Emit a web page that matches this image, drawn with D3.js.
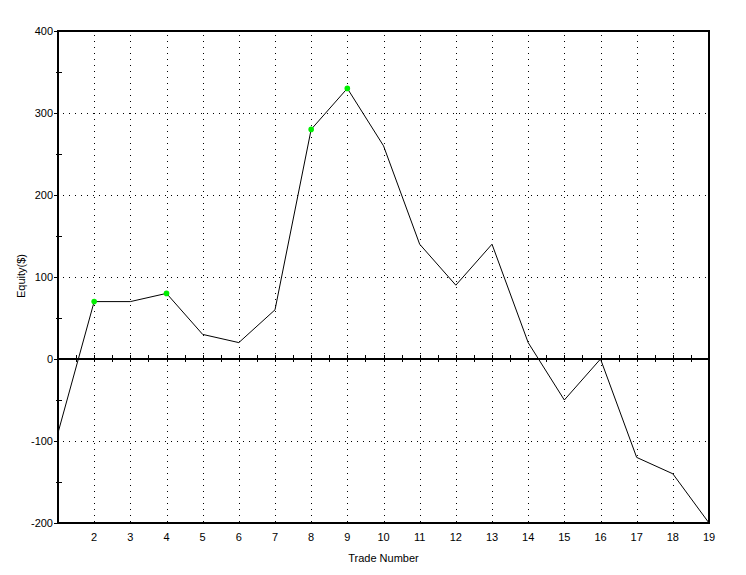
<!DOCTYPE html>
<html>
<head>
<meta charset="utf-8">
<script src="https://cdn.jsdelivr.net/npm/d3@7"></script>
<style>
html,body{margin:0;padding:0;background:#fff;}
svg{display:block;font-family:"Liberation Sans",Arial,sans-serif;}
</style>
</head>
<body>
<svg id="chart" width="746" height="575"></svg>
<script>
const trades = [1,2,3,4,5,6,7,8,9,10,11,12,13,14,15,16,17,18,19];
const equity = [-90,70,70,80,30,20,60,280,330,260,140,90,140,20,-50,0,-120,-140,-200];
const highTrades = [2,4,8,9];
const yTicks = [-200,-100,0,100,200,300,400];
const xTickLabels = [2,3,4,5,6,7,8,9,10,11,12,13,14,15,16,17,18,19];

const svg = d3.select("#chart");
const L = 58, R = 709, T = 31, B = 523;
const x = d3.scaleLinear().domain([1,19]).range([L,R]);
const y = d3.scaleLinear().domain([-200,400]).range([B,T]);

// grid
const g = svg.append("g").attr("shape-rendering","crispEdges");
g.selectAll(".vg").data(xTickLabels.filter(d=>d<19)).enter().append("line")
  .attr("x1",d=>Math.round(x(d))+0.5).attr("x2",d=>Math.round(x(d))+0.5)
  .attr("y1",T+4).attr("y2",B)
  .attr("stroke","#000").attr("stroke-width",1).attr("stroke-dasharray","1,5");
g.selectAll(".hg").data(yTicks.filter(d=>d!==0 && d!==400 && d!==-200)).enter().append("line")
  .attr("x1",L+5).attr("x2",R)
  .attr("y1",d=>Math.round(y(d))+0.5).attr("y2",d=>Math.round(y(d))+0.5)
  .attr("stroke","#000").attr("stroke-width",1).attr("stroke-dasharray","1,5");

// zero line with half ticks
const y0 = Math.round(y(0));
g.append("line").attr("x1",L).attr("x2",R).attr("y1",y0).attr("y2",y0)
  .attr("stroke","#000").attr("stroke-width",2);
const halfTicks = d3.range(1.5,19,0.5);
g.selectAll(".zt").data(halfTicks).enter().append("line")
  .attr("x1",d=>Math.round(x(d))+0.5).attr("x2",d=>Math.round(x(d))+0.5)
  .attr("y1",y0-4).attr("y2",y0+3).attr("stroke","#000").attr("stroke-width",1);

// frame
g.append("line").attr("x1",L).attr("x2",L).attr("y1",T-1).attr("y2",B+1).attr("stroke","#000").attr("stroke-width",2);
g.append("line").attr("x1",L-1).attr("x2",R+1).attr("y1",T).attr("y2",T).attr("stroke","#000").attr("stroke-width",2);
g.append("line").attr("x1",R).attr("x2",R).attr("y1",T-1).attr("y2",B+1).attr("stroke","#000").attr("stroke-width",2);
g.append("line").attr("x1",L-1).attr("x2",R+1).attr("y1",B).attr("y2",B).attr("stroke","#000").attr("stroke-width",2);

// y major ticks (left) and minor ticks
g.selectAll(".ymt").data(yTicks).enter().append("line")
  .attr("x1",L-4).attr("x2",L)
  .attr("y1",d=>Math.round(y(d))+0.5).attr("y2",d=>Math.round(y(d))+0.5)
  .attr("stroke","#000").attr("stroke-width",1);
const minor = d3.range(-150,400,100);
g.selectAll(".ymn").data(minor).enter().append("line")
  .attr("x1",L-2).attr("x2",L+4)
  .attr("y1",d=>Math.round(y(d))+0.5).attr("y2",d=>Math.round(y(d))+0.5)
  .attr("stroke","#000").attr("stroke-width",1);

// y labels
svg.selectAll(".yl").data(yTicks).enter().append("text")
  .attr("x",L-5).attr("y",d=>y(d)).attr("dy","0.35em")
  .attr("text-anchor","end").attr("font-size",11).text(d=>d);

// x labels
svg.selectAll(".xl").data(xTickLabels).enter().append("text")
  .attr("x",d=>x(d)).attr("y",B+18)
  .attr("text-anchor","middle").attr("font-size",11).text(d=>d);

// axis titles
svg.append("text").attr("x",(L+R)/2).attr("y",562).attr("text-anchor","middle")
  .attr("font-size",11).text("Trade Number");
svg.append("text").attr("transform",`translate(25,${(T+B)/2 - 1}) rotate(-90)`)
  .attr("text-anchor","middle").attr("font-size",11).text("Equity($)");

// line
const data = trades.map((t,i)=>({t, v: equity[i]}));
svg.append("path").datum(data)
  .attr("d", d3.line().x(d=>x(d.t)).y(d=>y(d.v)))
  .attr("fill","none").attr("stroke","#000").attr("stroke-width",1);

// highs
svg.selectAll(".hi").data(data.filter(d=>highTrades.includes(d.t))).enter().append("circle")
  .attr("cx",d=>x(d.t)).attr("cy",d=>y(d.v)).attr("r",2.8)
  .attr("fill","#00ee00");
</script>
</body>
</html>
